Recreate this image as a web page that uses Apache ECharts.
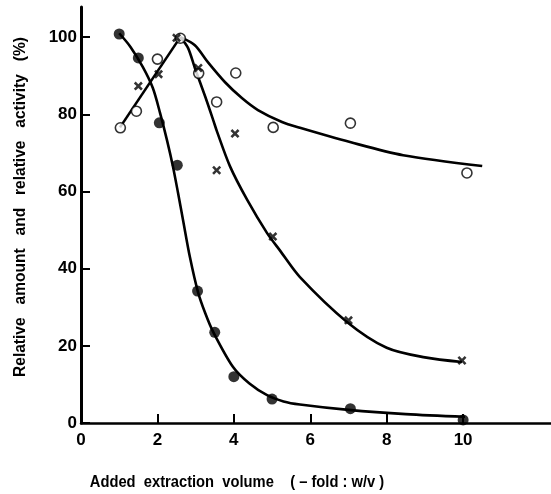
<!DOCTYPE html>
<html>
<head>
<meta charset="utf-8">
<script src="https://cdn.jsdelivr.net/npm/echarts@6/dist/echarts.min.js"></script>
<style>html,body{margin:0;padding:0;background:#fff}#c{width:551px;height:494px}</style>
</head>
<body>
<div id="c"></div>
<script>
// tick labels
const xTicks = [0, 2, 4, 6, 8, 10];
const yTicks = [0, 20, 40, 60, 80, 100];

// measured points
const filledPts = [[1, 100.8], [1.5, 94.6], [2.05, 77.8], [2.52, 66.8], [3.05, 34.2], [3.5, 23.5], [4, 12], [5, 6.2], [7.05, 3.7], [10, 0.8]];
const openPts = [[1.03, 76.5], [1.45, 80.8], [2, 94.3], [2.6, 99.7], [3.08, 90.6], [3.55, 83.2], [4.05, 90.7], [5.03, 76.6], [7.05, 77.7], [10.1, 64.8]];
const crossPts = [[1.5, 87.3], [2.03, 90.4], [2.5, 99.8], [3.07, 92], [3.55, 65.5], [4.03, 75], [5.02, 48.3], [7, 26.6], [9.97, 16.2]];

// fitted curves
const curveFilled = [[1, 101], [1.3, 97.4], [1.62, 92.2], [1.88, 86.8], [2.07, 80.3], [2.25, 73.3], [2.41, 66.3], [2.54, 59.6], [2.67, 52.6], [2.85, 43], [3.06, 34], [3.25, 28.5], [3.46, 23.6], [3.98, 14.5], [4.4, 10.3], [4.87, 7.2], [5.3, 5.6], [5.73, 4.8], [7, 3.4], [8.5, 2.3], [10.05, 1.6]];
const curveRise = [[1.02, 76.6], [2.6, 100]];
const curveCross = [[2.6, 100], [2.8, 97.2], [2.98, 92], [3.25, 84.6], [3.46, 78.5], [3.56, 75.5], [3.9, 66.5], [4.35, 57.8], [4.87, 49.2], [5.2, 44.8], [5.73, 37.8], [6.96, 26.2], [8, 19.5], [9, 17], [9.97, 15.8]];
const curveOpen = [[2.6, 100], [2.98, 97.9], [3.32, 93.5], [3.77, 88.3], [4.21, 84.2], [4.63, 81.1], [5.26, 78], [5.73, 76.5], [7.04, 72.8], [8.43, 69.4], [10.5, 66.6]];

const yName = 'Relative   amount   and   relative   activity   (%)';
const xName = 'Added  extraction  volume    ( – fold : w/v )';

const ink = '#000';
const crossPath = 'path://M0,2L2,0L5,3L8,0L10,2L7,5L10,8L8,10L5,7L2,10L0,8L3,5Z';

const chart = echarts.init(document.getElementById('c'), null, {renderer: 'canvas'});
const lineSeries = (d) => ({type: 'line', data: d, smooth: 0.3, showSymbol: false, symbol: 'none',
  lineStyle: {color: ink, width: 2.6}, silent: true, z: 2});

chart.setOption({
  animation: false,
  backgroundColor: '#fff',
  grid: {left: 81, right: 0, top: 7, bottom: 71},
  xAxis: {
    type: 'value', min: 0, max: 12.3,
    axisLine: {show: true, lineStyle: {color: ink, width: 2.5}},
    axisTick: {show: true, inside: true, length: 9, lineStyle: {color: ink, width: 2}, customValues: xTicks},
    axisLabel: {customValues: xTicks, color: ink, fontFamily: 'Liberation Sans', fontWeight: 'bold', fontSize: 17, margin: 9},
    splitLine: {show: false}
  },
  yAxis: {
    type: 'value', min: 0, max: 107.8,
    axisLine: {show: true, lineStyle: {color: ink, width: 3}},
    axisTick: {show: true, inside: true, length: 9, lineStyle: {color: ink, width: 2}, customValues: yTicks},
    axisLabel: {customValues: yTicks, color: ink, fontFamily: 'Liberation Sans', fontWeight: 'bold', fontSize: 17, margin: 4},
    splitLine: {show: false}
  },
  graphic: [
    {type: 'text', x: 21, y: 207, rotation: Math.PI / 2, scaleX: 0.97,
      style: {text: yName, fill: ink, font: "bold 16px 'Liberation Sans'", align: 'center', verticalAlign: 'middle'}},
    {type: 'text', x: 237, y: 483, scaleX: 0.92,
      style: {text: xName, fill: ink, font: "bold 16px 'Liberation Sans'", align: 'center', verticalAlign: 'middle'}}
  ],
  series: [
    lineSeries(curveFilled),
    lineSeries(curveRise),
    lineSeries(curveCross),
    lineSeries(curveOpen),
    {type: 'scatter', data: filledPts, symbol: 'circle', symbolSize: 11, itemStyle: {color: ink}, z: 3},
    {type: 'scatter', data: openPts, symbol: 'circle', symbolSize: 10, itemStyle: {color: '#fff', borderColor: ink, borderWidth: 1.6}, z: 3},
    {type: 'scatter', data: crossPts, symbol: crossPath, symbolSize: 9, itemStyle: {color: ink}, z: 3}
  ]
});
</script>
</body>
</html>
